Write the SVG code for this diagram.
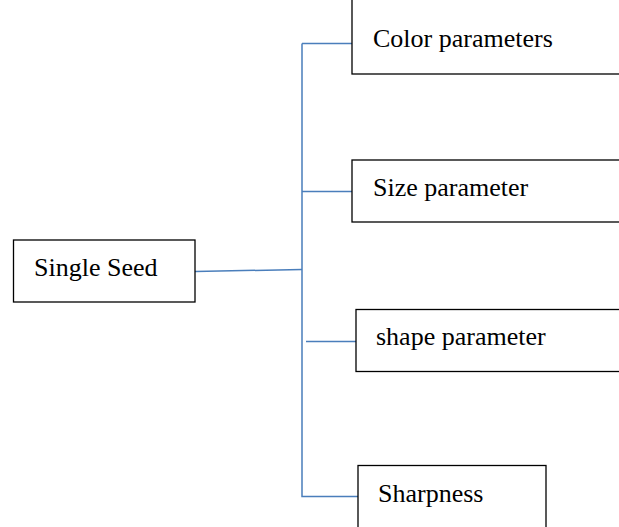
<svg xmlns="http://www.w3.org/2000/svg" width="619" height="527" viewBox="0 0 619 527">
<style>
.box{fill:#fff;stroke:#000;stroke-width:1.3}
.lbl{font-family:"Liberation Serif","Times New Roman",serif;font-size:26px;fill:#000}
.con{fill:none;stroke:#4a7ebb;stroke-width:1.5}
</style>
<rect width="619" height="527" fill="#fff"/>
<g id="connectors">
<path class="con" d="M195,271.5 L302,269.5"/>
<path class="con" d="M302,43.5 L302,496.5 L358,496.5"/>
<path class="con" d="M302,43.5 L352,43.5"/>
<path class="con" d="M302,191.5 L352,191.5"/>
<path class="con" d="M306,341.5 L356,341.5"/>
</g>
<g id="single-seed"><rect class="box" x="13.5" y="240" width="181.5" height="62"/><text class="lbl" x="34" y="276">Single Seed</text></g>
<g id="color"><rect class="box" x="352" y="-2" width="270" height="76"/><text class="lbl" x="373" y="47">Color parameters</text></g>
<g id="size"><rect class="box" x="352" y="160" width="270" height="62"/><text class="lbl" x="373" y="196">Size parameter</text></g>
<g id="shape"><rect class="box" x="356" y="309.5" width="266" height="62"/><text class="lbl" x="376" y="345">shape parameter</text></g>
<g id="sharpness"><rect class="box" x="358" y="465.5" width="188" height="70"/><text class="lbl" x="378" y="502">Sharpness</text></g>
</svg>
